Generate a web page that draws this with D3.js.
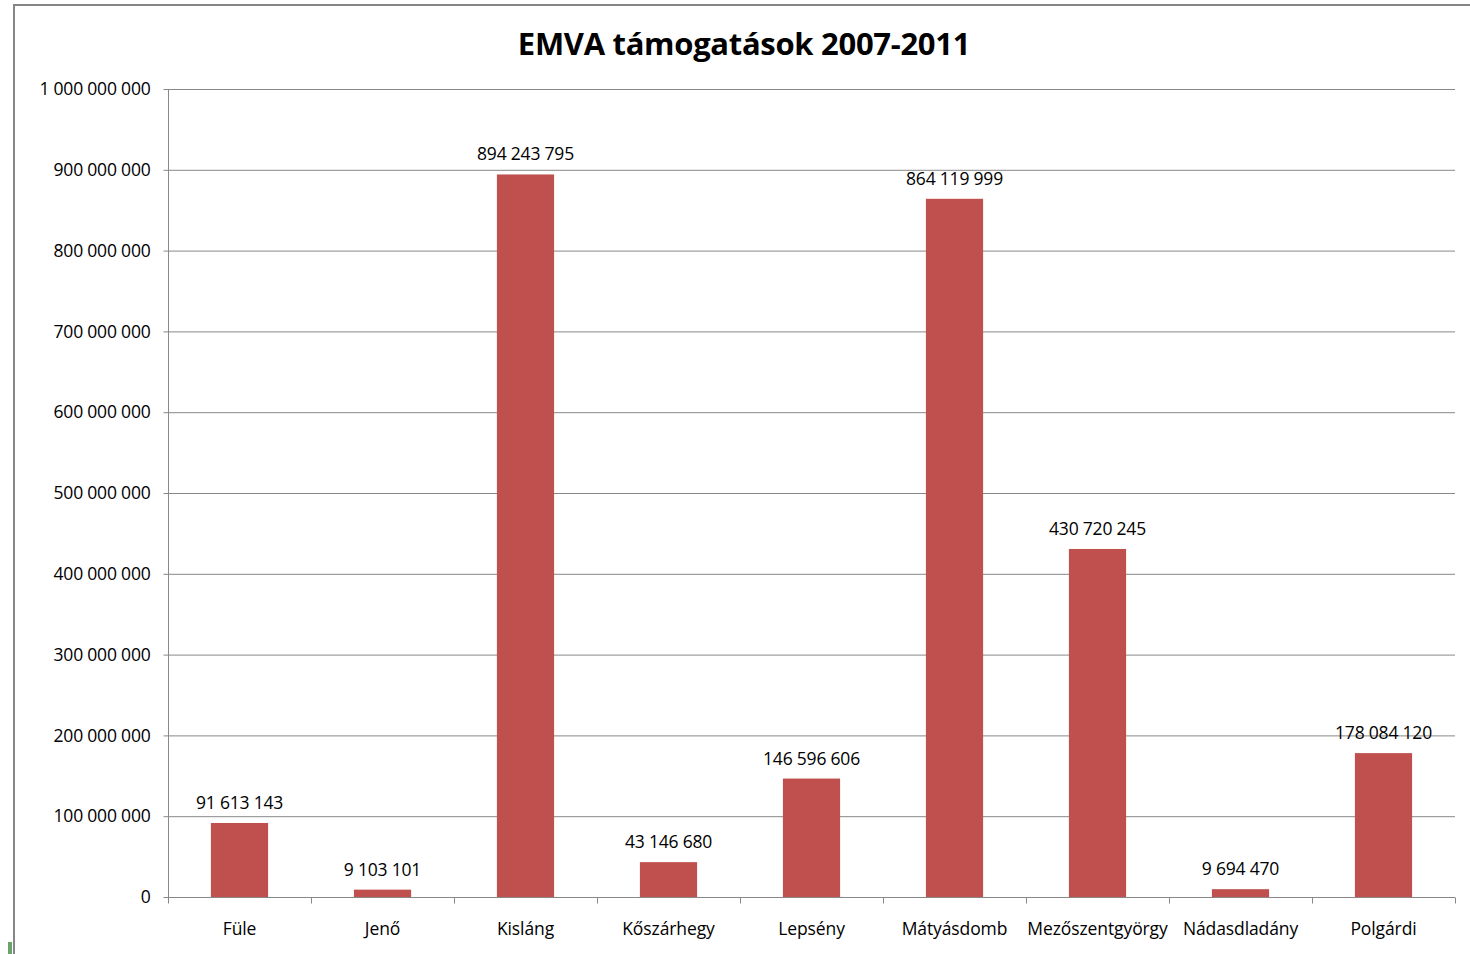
<!DOCTYPE html>
<html><head><meta charset="utf-8">
<script src="https://cdn.jsdelivr.net/npm/d3@7"></script>
<style>body{margin:0;background:#fff;} text{font-family:"Open Sans","Noto Sans",sans-serif;}</style>
</head><body>
<svg id="c" width="1470" height="954"></svg>
<script>
const categories = ["Füle","Jenő","Kisláng","Kőszárhegy","Lepsény","Mátyásdomb","Mezőszentgyörgy","Nádasdladány","Polgárdi"];
const values = [91613143, 9103101, 894243795, 43146680, 146596606, 864119999, 430720245, 9694470, 178084120];
const yTicks = [0,100000000,200000000,300000000,400000000,500000000,600000000,700000000,800000000,900000000,1000000000];
const title = "EMVA támogatások 2007-2011";

const svg = d3.select("#c");
const fmt = v => d3.format(",")(v).replace(/,/g, " ");
const pL = 168, pR = 1455, pT = 89, pB = 897;

// outer frame
svg.append("rect").attr("x",14).attr("y",5).attr("width",1470).attr("height",1000)
  .attr("fill","none").attr("stroke","#868686").attr("stroke-width",2);
svg.append("rect").attr("x",8).attr("y",942).attr("width",4).attr("height",12).attr("fill","#6aa36a");

const x = d3.scaleBand().domain(categories).range([pL,pR]).paddingInner(0.6).paddingOuter(0.3);
const y = d3.scaleLinear().domain([0,1000000000]).range([pB,pT]);

// gridlines
svg.append("g").selectAll("line").data(yTicks.filter(d=>d>0)).join("line")
  .attr("x1",pL).attr("x2",pR).attr("y1",d=>y(d)+0.5).attr("y2",d=>y(d)+0.5)
  .attr("stroke","#888").attr("stroke-width",1);

// y axis
const ya = svg.append("g").attr("transform",`translate(${pL+0.5},0)`)
  .call(d3.axisLeft(y).tickValues(yTicks).tickFormat(fmt).tickSize(5).tickPadding(13));
ya.select(".domain").attr("stroke","#888").attr("d",`M0,${pT}V${pB}`);
ya.selectAll(".tick line").attr("stroke","#888");
ya.selectAll(".tick text").attr("font-size",17.5).attr("fill","#000").attr("font-family","'Open Sans',sans-serif").attr("letter-spacing","-0.2");

// x axis
const xa = svg.append("g").attr("transform",`translate(0,${pB+0.5})`)
  .call(d3.axisBottom(x).tickSize(0).tickPadding(25));
xa.select(".domain").attr("stroke","#888").attr("d",`M${pL},0H${pR}`);
xa.selectAll(".tick text").attr("font-size",17.5).attr("fill","#000").attr("font-family","'Open Sans',sans-serif").attr("letter-spacing","-0.1");
const bounds = d3.range(categories.length+1).map(i => pL + i*x.step());
xa.append("g").selectAll("line").data(bounds).join("line")
  .attr("x1",d=>Math.round(d)+0.5).attr("x2",d=>Math.round(d)+0.5).attr("y1",0).attr("y2",6).attr("stroke","#888");

// bars
svg.append("g").selectAll("rect").data(values).join("rect")
  .attr("x",(d,i)=>x(categories[i])).attr("width",x.bandwidth())
  .attr("y",d=>y(d)).attr("height",d=>pB-y(d)).attr("fill","#C0504D");

// value labels
svg.append("g").selectAll("text").data(values).join("text")
  .attr("x",(d,i)=>x(categories[i])+x.bandwidth()/2).attr("y",d=>y(d)-14)
  .attr("text-anchor","middle").attr("font-size",17.5).attr("letter-spacing","-0.2").attr("fill","#000")
  .text(fmt);

// title
svg.append("text").attr("x",744).attr("y",55).attr("text-anchor","middle")
  .attr("font-size",31).attr("font-weight","bold").attr("letter-spacing","-0.3").attr("fill","#000").text(title);
</script>
</body></html>
